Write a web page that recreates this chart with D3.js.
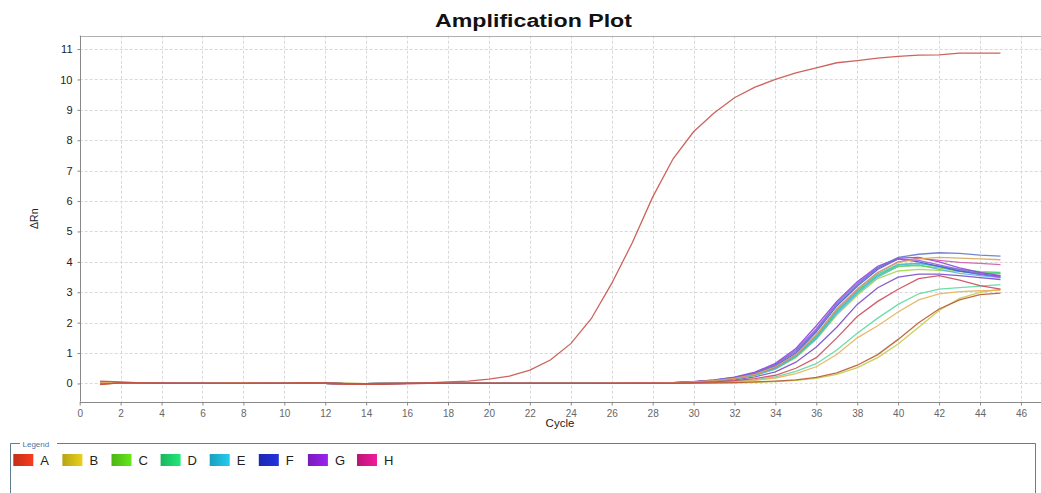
<!DOCTYPE html>
<html>
<head>
<meta charset="utf-8">
<script src="https://cdn.jsdelivr.net/npm/d3@7"></script>
<style>
  body { margin: 0; background: #fff; }
  svg { display: block; font-family: "Liberation Sans", Arial, sans-serif; }
</style>
</head>
<body>
<svg width="1041" height="493"></svg>
<script>
// cycle numbers and axis ticks
const cycles = d3.range(1, 46);
const xTicks = [0, 2, 4, 6, 8, 10, 12, 14, 16, 18, 20, 22, 24, 26, 28, 30, 32, 34, 36, 38, 40, 42, 44, 46];
const yTicks = [0, 1, 2, 3, 4, 5, 6, 7, 8, 9, 10, 11];

// legend samples
const samples = ['A', 'B', 'C', 'D', 'E', 'F', 'G', 'H'];
const sampleColors = ['#e8381c', '#d8c418', '#5cd818', '#20d870', '#20bee0', '#2030d0', '#9020e0', '#e01890'];

// delta Rn per well, cycles 1..45
const a1 = [-0.03, 0.02, 0.01, 0, 0, 0, 0, 0, 0, 0,
  0.01, 0, -0.02, -0.02, -0.01, 0, 0.02, 0.05, 0.08, 0.14,
  0.24, 0.44, 0.77, 1.31, 2.13, 3.29, 4.62, 6.13, 7.39, 8.28,
  8.9, 9.4, 9.75, 10.0, 10.22, 10.38, 10.55, 10.62, 10.7, 10.76,
  10.8, 10.81, 10.87, 10.87, 10.87];
const a2 = [0.08, 0.05, 0.02, 0.01, 0, 0, 0, 0, 0.01, 0,
  0.01, 0.01, -0.01, -0.02, -0.01, -0.01, 0, 0, 0, 0,
  0, 0, 0, 0, 0, 0, 0.01, 0.01, 0.01, 0.03,
  0.05, 0.09, 0.16, 0.27, 0.5, 0.85, 1.5, 2.2, 2.7, 3.1,
  3.45, 3.55, 3.4, 3.22, 3.1];
const a3 = [-0.04, 0.03, 0.01, 0, 0, 0, 0, 0, 0, 0,
  0.02, 0.01, 0, -0.01, -0.01, 0, 0, 0, 0, 0,
  0, 0, 0, 0, 0, 0, 0, 0, 0, 0.01,
  0.02, 0.03, 0.05, 0.08, 0.12, 0.2, 0.35, 0.6, 0.95, 1.45,
  2.0, 2.45, 2.75, 2.92, 2.97];
const b1 = [0.02, 0.03, 0.01, 0, 0, 0, 0.01, 0.01, 0.01, 0,
  0, 0, -0.01, -0.01, 0, 0, 0, 0, 0, 0,
  0, 0, 0, 0, 0, 0.01, 0.01, 0.01, 0.02, 0.05,
  0.09, 0.17, 0.3, 0.55, 0.95, 1.6, 2.45, 3.1, 3.65, 3.98,
  4.1, 4.15, 4.12, 4.1, 4.07];
const b2 = [0.05, 0.02, 0, 0, 0, 0, 0, 0.01, 0, 0,
  0.01, 0, -0.01, -0.01, 0, 0, 0, 0, 0, 0,
  0, 0, 0, 0, 0, 0, 0, 0, 0.01, 0.02,
  0.03, 0.06, 0.1, 0.18, 0.32, 0.55, 0.95, 1.5, 1.9, 2.35,
  2.75, 2.95, 3.02, 3.05, 3.06];
const b3 = [0, 0.02, 0.01, 0, 0, 0, 0, 0, 0, 0,
  0, 0, 0, -0.01, 0, 0, 0, 0, 0, 0,
  0, 0, 0, 0, 0, 0, 0, 0, 0, 0,
  0.01, 0.02, 0.04, 0.06, 0.1, 0.17, 0.3, 0.52, 0.85, 1.3,
  1.85, 2.4, 2.8, 3.0, 3.1];
const c1 = [0.03, 0.02, 0.01, 0, 0, 0, 0.01, 0.01, 0.01, 0,
  0, 0, -0.01, -0.01, 0, 0, 0, 0, 0, 0,
  0, 0, 0, 0, 0, 0, 0.01, 0.01, 0.02, 0.05,
  0.09, 0.16, 0.28, 0.5, 0.9, 1.52, 2.35, 3.0, 3.55, 3.85,
  3.88, 3.8, 3.7, 3.64, 3.61];
const c2 = [0.01, 0.03, 0.01, 0, 0, 0, 0, 0.01, 0, 0,
  0.01, 0, 0, -0.01, 0, 0, 0, 0, 0, 0,
  0, 0, 0, 0, 0, 0, 0, 0.01, 0.02, 0.04,
  0.08, 0.15, 0.26, 0.47, 0.85, 1.45, 2.25, 2.9, 3.45, 3.7,
  3.75, 3.72, 3.68, 3.64, 3.62];
const d1 = [0.04, 0.03, 0.01, 0, 0, 0, 0, 0.01, 0.01, 0,
  0.01, 0, -0.01, -0.01, 0, 0, 0, 0, 0, 0,
  0, 0, 0, 0, 0, 0.01, 0.01, 0.01, 0.02, 0.05,
  0.09, 0.16, 0.29, 0.52, 0.92, 1.55, 2.4, 3.05, 3.6, 3.92,
  3.95, 3.85, 3.75, 3.68, 3.65];
const d2 = [0.02, 0.01, 0, 0, 0, 0, 0, 0, 0, 0,
  0, 0, -0.01, -0.01, 0, 0, 0, 0, 0, 0,
  0, 0, 0, 0, 0, 0, 0, 0, 0.01, 0.02,
  0.04, 0.07, 0.12, 0.22, 0.4, 0.65, 1.1, 1.65, 2.15, 2.6,
  2.95, 3.1, 3.15, 3.2, 3.25];
const e1 = [0.03, 0.02, 0.01, 0, 0, 0, 0, 0, 0.01, 0,
  0, 0, -0.01, -0.01, 0, 0, 0, 0, 0, 0,
  0, 0, 0, 0, 0, 0, 0.01, 0.01, 0.02, 0.05,
  0.09, 0.16, 0.28, 0.5, 0.9, 1.5, 2.35, 3.0, 3.55, 3.9,
  3.95, 3.85, 3.7, 3.58, 3.5];
const e2 = [0.02, 0.02, 0, 0, 0, 0, 0, 0, 0, 0,
  0.01, 0, -0.01, -0.01, -0.01, 0, 0, 0, 0, 0,
  0, 0, 0, 0, 0, 0, 0, 0.01, 0.02, 0.04,
  0.08, 0.15, 0.27, 0.48, 0.88, 1.48, 2.3, 2.95, 3.5, 3.85,
  3.9, 3.75, 3.62, 3.55, 3.48];
const f1 = [0.03, 0.02, 0.01, 0, 0, 0, 0, 0, 0, 0,
  0, 0, -0.01, -0.01, 0, 0, 0, 0, 0, 0,
  0, 0, 0, 0, 0, 0.01, 0.01, 0.01, 0.03, 0.05,
  0.1, 0.19, 0.33, 0.6, 1.05, 1.75, 2.6, 3.25, 3.8, 4.15,
  4.25, 4.3, 4.28, 4.22, 4.19];
const f2 = [0.02, 0.01, 0, 0, 0, 0, 0, 0, 0, 0,
  0.01, 0, -0.01, -0.01, 0, 0, 0, 0, 0, 0,
  0, 0, 0, 0, 0, 0, 0.01, 0.01, 0.03, 0.05,
  0.1, 0.18, 0.32, 0.57, 1.0, 1.7, 2.55, 3.2, 3.75, 4.1,
  4.0, 3.85, 3.7, 3.6, 3.53];
const g1 = [0.05, 0.03, 0.01, 0, 0, 0, 0, 0, 0, 0,
  0.01, 0, -0.01, -0.02, -0.01, 0, 0, 0, 0, 0,
  0, 0, 0, 0, 0, 0.01, 0.01, 0.02, 0.03, 0.06,
  0.12, 0.21, 0.37, 0.66, 1.15, 1.9, 2.7, 3.35, 3.85, 4.12,
  4.15, 4.0, 3.8, 3.65, 3.55];
const g2 = [0.02, 0.02, 0.01, 0, 0, 0, 0, 0, 0, 0,
  0, 0, -0.01, -0.01, 0, 0, 0, 0, 0, 0,
  0, 0, 0, 0, 0, 0.01, 0.01, 0.01, 0.03, 0.06,
  0.11, 0.2, 0.35, 0.62, 1.1, 1.8, 2.65, 3.3, 3.8, 4.1,
  4.05, 3.9, 3.75, 3.6, 3.5];
const g3 = [0.01, 0.02, 0, 0, 0, 0, 0, 0, 0, 0,
  0, 0, -0.01, -0.01, 0, 0, 0, 0, 0, 0,
  0, 0, 0, 0, 0, 0, 0, 0.01, 0.02, 0.04,
  0.07, 0.12, 0.22, 0.38, 0.7, 1.2, 1.85, 2.6, 3.15, 3.5,
  3.6, 3.6, 3.55, 3.48, 3.42];
const h1 = [0.03, 0.02, 0.01, 0, 0, 0, 0, 0, 0, 0,
  0.01, 0, -0.01, -0.01, 0, 0, 0, 0, 0, 0,
  0, 0, 0, 0, 0, 0.01, 0.01, 0.01, 0.02, 0.05,
  0.09, 0.17, 0.3, 0.54, 0.95, 1.6, 2.45, 3.1, 3.65, 4.0,
  4.12, 4.05, 3.98, 3.95, 3.91];

// wells in drawing order (red wells on top), with their line colours
const wells = [
  { values: b3, color: '#c4cc48' },
  { values: d2, color: '#5ed8a2' },
  { values: g3, color: '#7a4cc6' },
  { values: c2, color: '#a6d64e' },
  { values: e2, color: '#5cb6e2' },
  { values: c1, color: '#6cd44c' },
  { values: d1, color: '#3cd27c' },
  { values: e1, color: '#40c2da' },
  { values: f2, color: '#4656d6' },
  { values: g2, color: '#a05ae2' },
  { values: g1, color: '#8e46d8' },
  { values: f1, color: '#6678cc' },
  { values: h1, color: '#d05aaa' },
  { values: b1, color: '#d6a85c' },
  { values: b2, color: '#e6b25a' },
  { values: a2, color: '#cc4a5c' },
  { values: a3, color: '#b85a32' },
  { values: a1, color: '#c8524a' }
];

const svg = d3.select('svg');

const plotLeft = 79.7, plotRight = 1041.4, plotTop = 35.7, plotBottom = 401.7;

const x = d3.scaleLinear().domain([0, 47]).range([plotLeft, plotRight]);
const y = d3.scaleLinear().domain([-0.6, 11.44]).range([plotBottom, plotTop]);

// title
svg.append('text')
  .attr('x', 533.5).attr('y', 27)
  .attr('text-anchor', 'middle')
  .attr('font-size', 18).attr('font-weight', 'bold')
  .attr('textLength', 197).attr('lengthAdjust', 'spacingAndGlyphs')
  .attr('fill', '#111')
  .text('Amplification Plot');

// grid
const grid = svg.append('g').attr('stroke', '#d9d9d9').attr('stroke-dasharray', '3,2').attr('stroke-width', 1);
grid.selectAll('line.v').data(xTicks.filter(d => d > 0)).enter().append('line')
  .attr('x1', d => Math.round(x(d)) + 0.5).attr('x2', d => Math.round(x(d)) + 0.5)
  .attr('y1', plotTop).attr('y2', plotBottom);
grid.selectAll('line.h').data(yTicks).enter().append('line')
  .attr('x1', plotLeft).attr('x2', plotRight)
  .attr('y1', d => Math.round(y(d)) + 0.5).attr('y2', d => Math.round(y(d)) + 0.5);

// plot border (top)
svg.append('line')
  .attr('x1', plotLeft).attr('x2', plotRight)
  .attr('y1', Math.round(plotTop) + 0.5).attr('y2', Math.round(plotTop) + 0.5)
  .attr('stroke', '#b0b0b0');

// axes
const yAxis = svg.append('g')
  .attr('transform', `translate(${Math.round(plotLeft) + 0.5},0)`)
  .call(d3.axisLeft(y).tickValues(yTicks).tickSize(3).tickPadding(5));
yAxis.select('.domain').attr('stroke', '#888').attr('d', `M0,${plotTop}V${plotBottom}`);
yAxis.selectAll('.tick line').attr('stroke', '#888');
yAxis.selectAll('.tick text').attr('font-size', 11).attr('fill', '#222')
  .attr('font-family', '"Liberation Sans", Arial, sans-serif');

const xAxis = svg.append('g')
  .attr('transform', `translate(0,${Math.round(plotBottom) + 0.5})`)
  .call(d3.axisBottom(x).tickValues(xTicks).tickSize(3).tickPadding(4).tickFormat(d3.format('d')));
xAxis.select('.domain').attr('stroke', '#888').attr('d', `M${plotLeft},0H${plotRight}`);
xAxis.selectAll('.tick line').attr('stroke', '#888');
xAxis.selectAll('.tick text').attr('font-size', 10).attr('fill', '#666')
  .attr('font-family', '"Liberation Sans", Arial, sans-serif');

// axis titles
svg.append('text')
  .attr('x', 560).attr('y', 427)
  .attr('text-anchor', 'middle').attr('font-size', 11.5).attr('fill', '#222')
  .text('Cycle');
svg.append('text')
  .attr('transform', `translate(38,${(plotTop + plotBottom) / 2}) rotate(-90)`)
  .attr('text-anchor', 'middle').attr('font-size', 10.5).attr('fill', '#222')
  .text('ΔRn');

// curves
const line = d3.line()
  .x((d, i) => x(cycles[i]))
  .y(d => y(d));

svg.append('g').attr('fill', 'none')
  .selectAll('path').data(wells).enter().append('path')
  .attr('d', d => line(d.values))
  .attr('stroke', d => d.color)
  .attr('stroke-width', 1.3)
  .attr('stroke-opacity', 0.9);

// legend box
const legend = svg.append('g');
legend.append('path')
  .attr('d', 'M20,443.5H10.5V493 M57,443.5H1035.5V493')
  .attr('fill', 'none').attr('stroke', '#5f7f90').attr('stroke-width', 1);
legend.append('text')
  .attr('x', 22.5).attr('y', 446.5)
  .attr('font-size', 8).attr('fill', '#4f74a0')
  .text('Legend');

const defs = svg.append('defs');
samples.forEach((s, i) => {
  const g = defs.append('linearGradient').attr('id', 'sw' + i);
  g.append('stop').attr('offset', '0%').attr('stop-color', d3.color(sampleColors[i]).darker(0.5));
  g.append('stop').attr('offset', '100%').attr('stop-color', d3.color(sampleColors[i]).brighter(0.2));
});

const items = legend.selectAll('g.item').data(samples).enter().append('g')
  .attr('transform', (d, i) => `translate(${13.3 + i * 49.1},454)`);
items.append('rect')
  .attr('width', 20).attr('height', 12)
  .attr('fill', (d, i) => `url(#sw${i})`);
items.append('text')
  .attr('x', 27).attr('y', 10.5)
  .attr('font-size', 13).attr('fill', '#222')
  .text(d => d);
</script>
</body>
</html>
